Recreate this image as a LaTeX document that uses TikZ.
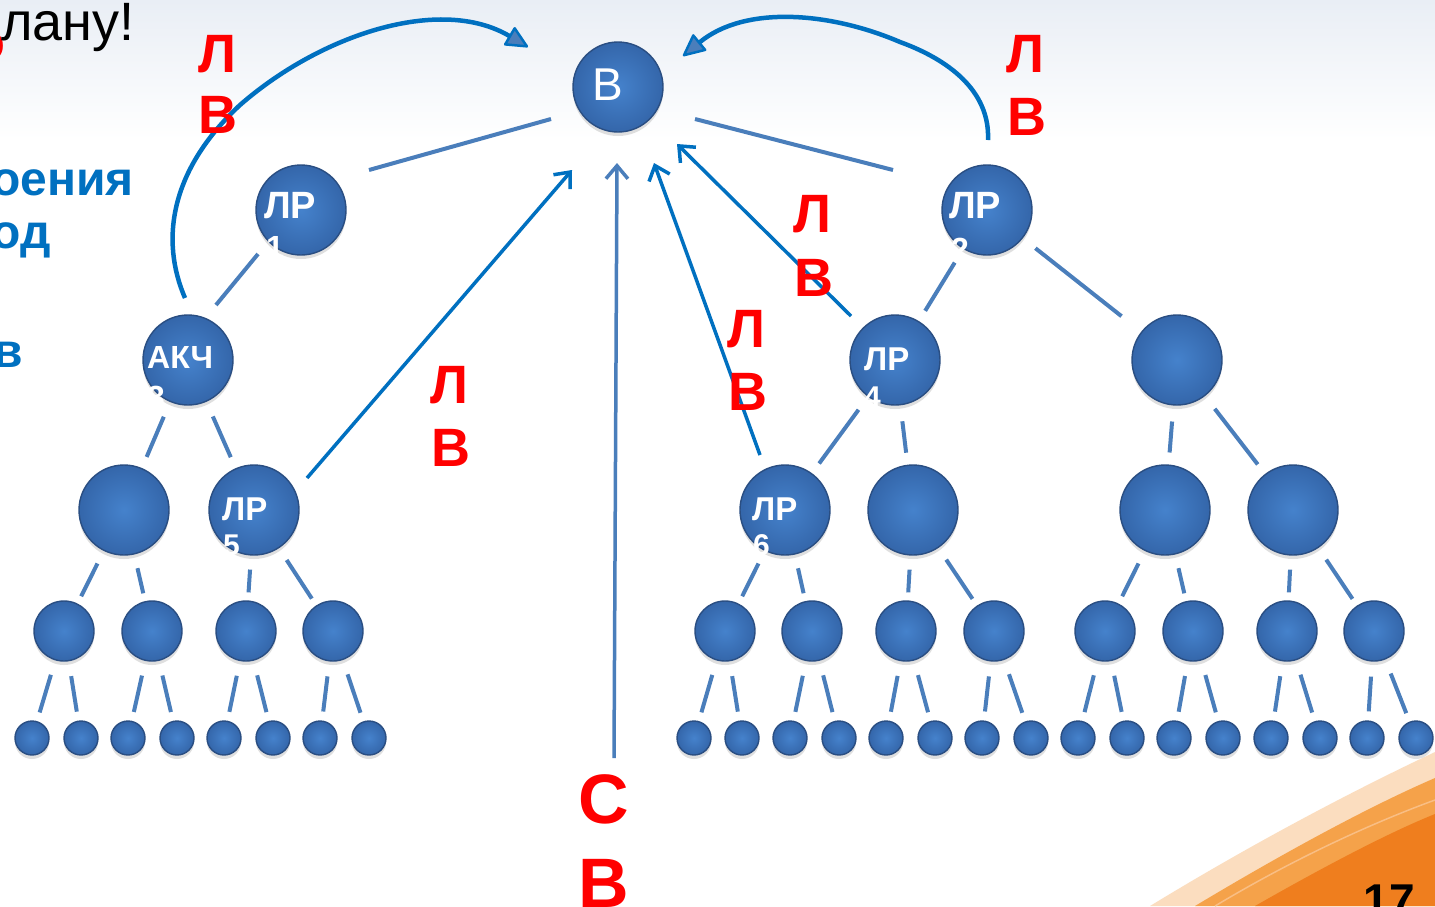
\documentclass[tikz,border=0pt]{standalone}
\usepackage{fontspec}
\setmainfont{Liberation Sans}
\usetikzlibrary{arrows.meta,shadows,calc}
\definecolor{ballin}{HTML}{4582CC}
\definecolor{ballout}{HTML}{3466AA}
\definecolor{rim}{HTML}{2A4E82}
\definecolor{edgeblue}{HTML}{4A7EBB}
\definecolor{arrblue}{HTML}{0070C0}
\definecolor{redc}{HTML}{FF0000}
\definecolor{bgtop}{HTML}{E9EEF5}
\definecolor{peach}{HTML}{FBDDBF}
\definecolor{orA}{HTML}{F5A24A}
\definecolor{orB}{HTML}{EF7E1E}
\definecolor{orhi}{HTML}{F9BE84}
\newcommand\myfs[1]{\fontsize{#1}{#1}\selectfont}
\begin{document}
\begin{tikzpicture}[x=1pt,y=-1pt,
  ball/.style={circle, inner sep=0pt, draw=rim, line width=1.4pt, inner color=ballin, outer color=ballout,
     drop shadow={shadow xshift=0pt,shadow yshift=-4pt,opacity=0.25}},
  bigball/.style={ball, minimum size=90pt},
  midball/.style={ball, minimum size=60pt},
  smallball/.style={ball, minimum size=34pt},
  edge/.style={draw=edgeblue, line width=4pt},
  e2/.style={edge, shorten <=16pt, shorten >=12pt},
  e3/.style={edge, shorten <=14pt, shorten >=8pt},
  e4/.style={edge, shorten <=15pt, shorten >=9pt},
  lbl/.style={text=white, font=\bfseries\myfs{#1}, inner sep=0pt, anchor=base west},
  redl/.style={text=redc, font=\bfseries\myfs{#1}, inner sep=0pt, anchor=base},
  curvearrow/.style={draw=arrblue, line width=4.5pt, -{Triangle[length=24pt,width=22pt,fill=edgeblue,line width=2.5pt,round]}},
  thinarrow/.style={draw=arrblue, line width=3.5pt, -{Straight Barb[length=13pt,width=22pt]}}
]
\useasboundingbox (0,0) rectangle (1435,906);
\clip (0,0) rectangle (1435,906);
% background
\fill[white] (0,0) rectangle (1435,906);
\shade[top color=bgtop, bottom color=white] (0,0) rectangle (1435,140);
% orange swoosh
\fill[peach] (1150,906) .. controls (1250,845) and (1350,792) .. (1435,752) -- (1435,906) -- cycle;
\fill[orA] (1195,906) .. controls (1285,852) and (1370,806) .. (1435,778) -- (1435,906) -- cycle;
\fill[orB] (1255,906) .. controls (1325,866) and (1390,832) .. (1435,814) -- (1435,906) -- cycle;
\draw[orhi, line width=1.5pt] (1215,906) .. controls (1300,855) and (1380,820) .. (1435,800);
\node[inner sep=0pt, anchor=base east, font=\bfseries\myfs{46}] (pg) at (1415,916) {17};

% cropped slide text
\node[inner sep=0pt, anchor=base east, text=redc, font=\bfseries\myfs{54}] (t0r) at (6,60) {о};
\node[inner sep=0pt, anchor=base west, font=\myfs{54}] (t0) at (1,40) {лану!};
\node[inner sep=0pt, anchor=base east, text=arrblue, font=\bfseries\myfs{48}] (t1) at (134,195) {оения};
\node[inner sep=0pt, anchor=base east, text=arrblue, font=\bfseries\myfs{48}] (t2) at (51,248) {од};
\node[inner sep=0pt, anchor=base east, text=arrblue, font=\bfseries\myfs{48}] (t3) at (23,367) {в};

% level 1-3 nodes
\node[bigball] (b) at (618,87) {};
\node[bigball] (lr1) at (301,210) {};
\node[bigball] (lr2) at (987,210) {};
\node[bigball] (akc) at (188,360) {};
\node[bigball] (lr4) at (895,360) {};
\node[bigball] (rm) at (1177,360) {};
\node[bigball] (n1) at (124,510) {};
\node[bigball] (lr5) at (254,510) {};
\node[bigball] (lr6) at (785,510) {};
\node[bigball] (n4) at (913,510) {};
\node[bigball] (n5) at (1165,510) {};
\node[bigball] (n6) at (1293,510) {};
% level 4-5 nodes
\foreach \x [count=\i] in {64,152,246,333,725,812,906,994,1105,1193,1287,1374}
  \node[midball] (m\i) at (\x,631) {};
\foreach \x [count=\i] in {32,81,128,177,224,273,320,369,694,742,790,839,886,935,982,1031,1078,1127,1174,1223,1271,1320,1367,1416}
  \node[smallball] (s\i) at (\x,738) {};

% node labels
\node[text=white, font=\myfs{46}, inner sep=0pt, anchor=base] (bt) at (608,100) {В};
\node[lbl=38] (l1a) at (264,218) {ЛР};
\node[lbl=32] (l1b) at (266,258) {1};
\node[lbl=38] (l2a) at (949,218) {ЛР};
\node[lbl=32] (l2b) at (951,260) {2};
\node[lbl=32] (l3a) at (147,368) {АКЧ};
\node[lbl=32] (l3b) at (147,408) {3};
\node[lbl=33] (l4a) at (864,370) {ЛР};
\node[lbl=30] (l4b) at (864,407) {4};
\node[lbl=33] (l5a) at (222,520) {ЛР};
\node[lbl=30] (l5b) at (223,555) {5};
\node[lbl=33] (l6a) at (752,520) {ЛР};
\node[lbl=30] (l6b) at (753,555) {6};

% tree edges
\draw[edge] (b) ++(-67,32) -- ($(lr1)+(68,-40)$);
\draw[edge] (b) ++(77,32) -- ($(lr2)+(-94,-40)$);
\draw[edge] (lr1) ++(-43,44) -- ($(akc)+(28,-55)$);
\draw[e2] (lr2) -- (lr4);
\draw[e2, shorten >=25pt] (lr2) -- (rm);
\draw[e2] (akc) -- (n1);
\draw[e2] (akc) -- (lr5);
\draw[e2] (lr4) -- (lr6);
\draw[e2] (lr4) -- (n4);
\draw[e2] (rm) -- (n5);
\draw[e2] (rm) -- (n6);
\draw[e3] (n1) -- (m1);  \draw[e3] (n1) -- (m2);
\draw[e3] (lr5) -- (m3); \draw[e3] (lr5) -- (m4);
\draw[e3] (lr6) -- (m5); \draw[e3] (lr6) -- (m6);
\draw[e3] (n4) -- (m7);  \draw[e3] (n4) -- (m8);
\draw[e3] (n5) -- (m9);  \draw[e3] (n5) -- (m10);
\draw[e3] (n6) -- (m11); \draw[e3] (n6) -- (m12);
\foreach \i in {1,...,12}{
  \pgfmathtruncatemacro\ka{2*\i-1}
  \pgfmathtruncatemacro\kb{2*\i}
  \draw[e4] (m\i) -- (s\ka);
  \draw[e4] (m\i) -- (s\kb);
}

% arrows
\coordinate (tipL) at (528,47);
\coordinate (tipR) at (683,56);
\draw[curvearrow] (akc) ++(-3,-62) .. controls (160,240) and (170,170) .. (240,105)
   .. controls (320,35) and (440,-5) .. (tipL);
\draw[curvearrow] (lr2) ++(1,-70) .. controls (990,95) and (955,62) .. (900,42)
   .. controls (830,12) and (745,5) .. (tipR);
\coordinate (t5) at (572,170);
\coordinate (tc) at (617,163);
\coordinate (sc) at (614,758);
\coordinate (t6) at (654,163);
\coordinate (t4) at (677,144);
\draw[thinarrow] (lr5) ++(53,-32) -- (t5);
\draw[thinarrow, draw=edgeblue] (sc) -- (tc);
\draw[thinarrow] (lr6) ++(-25,-55) -- (t6);
\draw[thinarrow] (lr4) ++(-44,-44) -- (t4);

% red labels
\node[redl=54] (r1a) at (217,72) {Л};
\node[redl=54] (r1b) at (218,133) {В};
\node[redl=54] (r2a) at (1025,72) {Л};
\node[redl=54] (r2b) at (1027,135) {В};
\node[redl=54] (r3a) at (812,232) {Л};
\node[redl=54] (r3b) at (814,296) {В};
\node[redl=54] (r4a) at (746,347) {Л};
\node[redl=54] (r4b) at (748,410) {В};
\node[redl=54] (r5a) at (449,403) {Л};
\node[redl=54] (r5b) at (451,466) {В};
\node[redl=70] (r6a) at (604,823) {С};
\node[redl=70] (r6b) at (604,907) {В};
\end{tikzpicture}
\end{document}
